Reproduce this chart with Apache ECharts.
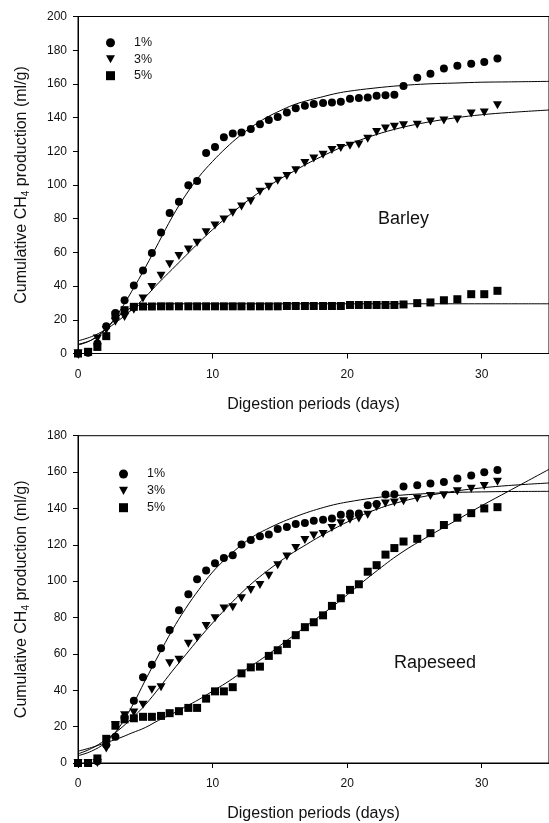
<!DOCTYPE html>
<html>
<head>
<meta charset="utf-8">
<script src="https://cdn.jsdelivr.net/npm/echarts@6/dist/echarts.min.js"></script>
<style>
  html, body { margin: 0; padding: 0; background: #fff; }
  #chart { width: 549px; height: 823px; }
</style>
</head>
<body>
<div id="chart"></div>
<script>
// sampling days (same for all series)
const days = [0, 0.75, 1.44, 2.1, 2.78, 3.46, 4.15, 4.83, 5.49, 6.17, 6.81, 7.5, 8.2, 8.85, 9.52,
  10.18, 10.84, 11.5, 12.15, 12.84, 13.52, 14.18, 14.84, 15.52, 16.18, 16.86, 17.52, 18.21, 18.87,
  19.53, 20.21, 20.87, 21.53, 22.19, 22.85, 23.51, 24.19, 25.21, 26.19, 27.19, 28.19, 29.22, 30.19, 31.17]

// Barley measured
const barley1 = [0, 0.5, 6, 16.2, 24, 31.6, 40.3, 49.2, 59.7, 71.8, 83.4, 90, 99.9, 102.4, 119,
  122.6, 128.4, 130.5, 131.1, 133.3, 136, 138.6, 140.4, 143, 145.5, 147, 148, 148.6, 149,
  149.4, 151.2, 151.6, 152, 153, 153.2, 153.5, 158.7, 163.6, 166, 169.2, 170.8, 172, 173, 175.1]
const barley3 = [0, 0.5, 8.9, 14, 18.8, 21.7, 26, 32.6, 39.5, 46.2, 53, 57.8, 61.7, 65.7, 72,
  76, 79.5, 83.5, 87.3, 90.3, 96, 99, 102.5, 105.4, 108.7, 113.1, 115.8, 117.9, 120.7,
  121.9, 123.3, 124.1, 127.4, 131.4, 133.6, 134.6, 135.4, 135.8, 137.7, 138.3, 138.9, 142.5, 143.1, 147.4]
const barley5 = [0, 1, 3.9, 10.3, 22.7, 25.7, 27.7, 27.9, 27.9, 28, 28, 28, 28, 28, 28,
  28, 28, 28, 28, 28, 28, 28, 28, 28.2, 28.2, 28.2, 28.2, 28.2, 28.2,
  28.2, 28.8, 28.8, 28.8, 28.8, 28.8, 28.8, 29.1, 29.9, 30.3, 31.6, 32.2, 35.2, 35.2, 37.2]

// Rapeseed measured
const rape1 = [0, 0, 1, 10, 14.5, 25, 34.3, 47.1, 54, 63.1, 73.1, 84, 92.8, 101, 105.9,
  109.8, 112.8, 114.2, 120.2, 122.7, 124.7, 125.6, 128.7, 129.8, 131.4, 132, 133.2, 133.8, 134.5,
  136.5, 137.2, 137.2, 141.8, 142.5, 147.6, 147.8, 152.1, 152.8, 153.7, 154.5, 156.4, 158.1, 159.9, 161.2]
const rape3 = [0, 0, 0, 8, 20.9, 26.3, 27.8, 32, 40.3, 41.7, 54.8, 56.8, 65.6, 68.9, 75.3,
  79.6, 85, 85.7, 90.6, 95.2, 97.9, 103, 108.8, 113.5, 118.2, 122.6, 125.1, 126, 129.3,
  131.8, 133.8, 134.5, 136.5, 140.8, 142.7, 143.2, 144, 145.4, 146.8, 147.2, 149.4, 150.8, 152.3, 154.7]
const rape5 = [0, 0, 2.5, 13.3, 20.5, 24, 24.6, 25.4, 25.4, 25.9, 27.4, 28.5, 30.3, 30.3, 35.4,
  39.4, 39.4, 41.7, 49.3, 52.6, 53, 58.9, 62, 65.5, 70.3, 74.7, 77.4, 81.2, 86.4,
  90.6, 95.2, 98.3, 105.2, 108.8, 114.6, 118.2, 121.8, 123.3, 126.4, 130.9, 134.9, 137.4, 140, 140.7]

// fitted curves
const fitDays = [0, 1, 2, 3, 4, 5, 6, 7, 8, 9, 10, 11, 12, 13, 14, 15, 16, 17, 18, 19, 20, 22, 24, 26, 28, 30, 32, 35]
const barleyFit1 = [5.5, 8, 14, 24, 37, 51, 66, 81, 94, 105, 114, 122, 129, 135, 140, 144, 147.5, 150, 152, 154, 155.5, 157.5, 159, 160, 160.5, 161, 161.2, 161.5]
const barleyFit3 = [7.5, 10, 14, 19.5, 26, 33.5, 42, 50, 58, 66, 73.5, 80.5, 87, 93, 98.5, 103.5, 108, 112.5, 116.5, 120.3, 123.8, 129.5, 134, 137.3, 139.8, 141.7, 143, 144.5]
const barleyFit5 = [5, 8, 14, 22, 27.3, 29, 29.4, 29.5, 29.5, 29.5, 29.5, 29.5, 29.5, 29.5, 29.5, 29.5, 29.5, 29.5, 29.5, 29.5, 29.5, 29.5, 29.5, 29.5, 29.5, 29.5, 29.5, 29.5]
const rapeFit1 = [4, 6.5, 11, 19, 31, 45.5, 59.5, 73, 85, 95.5, 105, 112.5, 119, 124.5, 128.5, 132, 135, 137.7, 140, 142, 143.5, 145.8, 147.3, 148.2, 148.8, 149.1, 149.3, 149.4]
const rapeFit3 = [5, 8, 12.5, 18, 24.5, 32, 41, 50.5, 59.5, 68.5, 77, 85, 92.5, 99.3, 105.3, 110.8, 115.8, 120.3, 124.7, 128.7, 132.5, 139, 143.7, 147, 149.5, 151.3, 152.6, 154]
const rapeFit5 = [6.5, 8.5, 11, 13.5, 16.5, 19.5, 23.5, 27, 31, 35, 39.5, 44, 49, 54, 59, 64.5, 70, 75.5, 81, 86.5, 92.5, 104.5, 115.5, 124.5, 133, 141.5, 149.5, 161.5]

const legendNames = ['1%', '3%', '5%']

const FONT = '"Liberation Sans", Arial, sans-serif'
const triangleDown = 'path://M0,0L10,0L5,9Z'
const markers = [
  { symbol: 'circle', size: 8 },
  { symbol: triangleDown, size: [9, 8] },
  { symbol: 'rect', size: 8 },
]

const pair = (xs, ys) => xs.map((x, i) => [x, ys[i]])

const scatterSeries = (idx, values) =>
  values.map((vals, k) => ({
    name: legendNames[k],
    type: 'scatter',
    xAxisIndex: idx,
    yAxisIndex: idx,
    symbol: markers[k].symbol,
    symbolSize: markers[k].size,
    itemStyle: { color: '#000', opacity: 1 },
    data: pair(days, vals),
    z: 3,
  }))

const fitSeries = (idx, fits) =>
  fits.map((vals) => ({
    type: 'line',
    xAxisIndex: idx,
    yAxisIndex: idx,
    smooth: 0.4,
    showSymbol: false,
    lineStyle: { color: '#000', width: 1 },
    data: pair(fitDays, vals),
    z: 2,
  }))

const xAxisCommon = (idx) => ({
  gridIndex: idx,
  type: 'value',
  min: 0,
  max: 35,
  interval: 10,
  name: 'Digestion periods (days)',
  nameLocation: 'middle',
  nameGap: 43,
  nameTextStyle: { fontFamily: FONT, fontSize: 16, color: '#111' },
  axisLine: { lineStyle: { color: '#000', width: 1 } },
  axisTick: { length: 5, lineStyle: { color: '#000' } },
  axisLabel: { fontFamily: FONT, fontSize: 12, color: '#111', margin: 15, showMaxLabel: false },
  splitLine: { show: false },
})

const yAxisCommon = (idx, max) => ({
  gridIndex: idx,
  type: 'value',
  min: 0,
  max: max,
  interval: 20,
  name: '{a|Cumulative CH}{s|4}{a| production (ml/g)}',
  nameLocation: 'middle',
  nameGap: 47,
  nameTextStyle: {
    fontFamily: FONT,
    color: '#111',
    rich: {
      a: { fontFamily: FONT, fontSize: 16, color: '#111' },
      s: { fontFamily: FONT, fontSize: 10, color: '#111', padding: [9, 0, 0, 0] },
    },
  },
  axisLine: { lineStyle: { color: '#000', width: 1 } },
  axisTick: { length: 5, lineStyle: { color: '#000' } },
  axisLabel: { fontFamily: FONT, fontSize: 12, color: '#111', margin: 11 },
  splitLine: { show: false },
})

const legendCommon = {
  orient: 'vertical',
  padding: 0,
  itemWidth: 9,
  itemHeight: 9,
  selectedMode: false,
  data: legendNames,
  textStyle: { fontFamily: FONT, fontSize: 12.5, color: '#111', lineHeight: 12, padding: [0, 0, 0, 14] },
}

const chart = echarts.init(document.getElementById('chart'))

chart.setOption({
  animation: false,
  backgroundColor: '#fff',
  grid: [
    { left: 78, top: 16.5, width: 478, height: 337, show: true, borderColor: '#000', borderWidth: 1 },
    { left: 78, top: 435.7, width: 478, height: 331, show: true, borderColor: '#000', borderWidth: 1 },
  ],
  xAxis: [xAxisCommon(0), xAxisCommon(1)],
  yAxis: [yAxisCommon(0, 200), yAxisCommon(1, 180)],
  legend: [
    Object.assign({ left: 106, top: 36.2, itemGap: 3.5 }, legendCommon),
    Object.assign({ left: 119, top: 467.5, itemGap: 3.85 }, legendCommon),
  ],
  graphic: [
    {
      type: 'text',
      x: 378,
      y: 218.7,
      style: { text: 'Barley', font: '18px ' + FONT, fill: '#111', verticalAlign: 'middle' },
    },
    {
      type: 'text',
      x: 394,
      y: 663,
      style: { text: 'Rapeseed', font: '18px ' + FONT, fill: '#111', verticalAlign: 'middle' },
    },
  ],
  series: [
    ...fitSeries(0, [barleyFit1, barleyFit3, barleyFit5]),
    ...fitSeries(1, [rapeFit1, rapeFit3, rapeFit5]),
    ...scatterSeries(0, [barley1, barley3, barley5]),
    ...scatterSeries(1, [rape1, rape3, rape5]),
  ],
})
</script>
</body>
</html>
